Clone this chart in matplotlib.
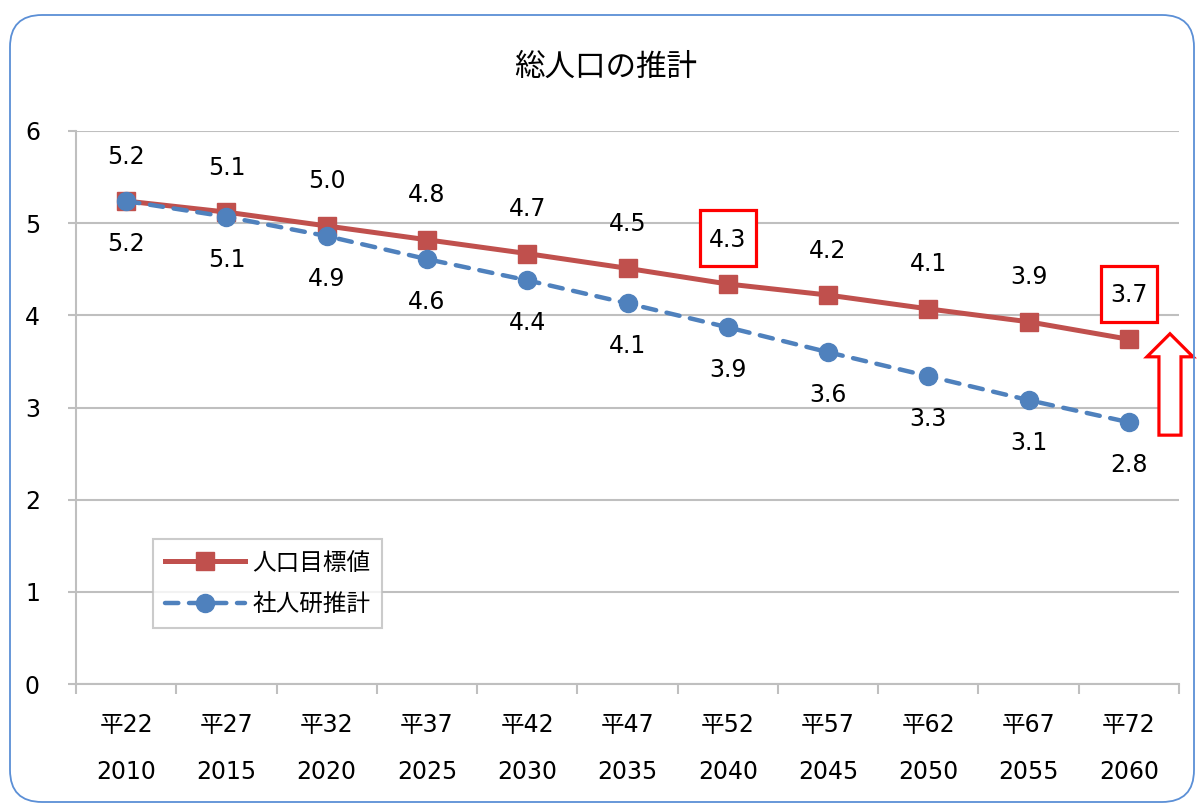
import matplotlib
matplotlib.use("Agg")
import matplotlib.pyplot as plt
from matplotlib.patches import FancyBboxPatch, Polygon, Rectangle
from matplotlib.transforms import IdentityTransform, ScaledTranslation

plt.rcParams['font.family'] = ['DejaVu Sans', 'Noto Sans CJK JP']

era = ["平22", "平27", "平32", "平37", "平42", "平47", "平52", "平57", "平62", "平67", "平72"]
years = ["2010", "2015", "2020", "2025", "2030", "2035", "2040", "2045", "2050", "2055", "2060"]
target = [5.24, 5.12, 4.97, 4.82, 4.67, 4.51, 4.34, 4.22, 4.07, 3.93, 3.74]
ipss = [5.24, 5.07, 4.86, 4.61, 4.38, 4.13, 3.87, 3.60, 3.34, 3.08, 2.84]
boxed = ["2040", "2060"]

red = "#C0504D"
blue = "#4F81BD"
grid = "#BFBFBF"
fs = 17

fig = plt.figure(figsize=(12, 8.06), dpi=100)
ax = fig.add_axes([76 / 1200, 1 - 684 / 806, 1103 / 1200, 553 / 806])

# rounded outer frame (pixel coords)
frame = FancyBboxPatch((10, 4), 1184, 787, boxstyle="round,pad=0,rounding_size=32",
                       transform=IdentityTransform(), fill=False,
                       edgecolor="#5B8FD6", linewidth=1.3)
fig.patches.append(frame)

x = list(range(len(years)))
ax.plot(x, target, color=red, lw=3.6, marker="s", ms=12.5, zorder=3, label="人口目標値")
ax.plot(x, ipss, color=blue, lw=3.2, ls=(0, (3.0, 2.4)), dash_capstyle="round",
        marker="o", ms=13, zorder=4, label="社人研推計")

for i, v in enumerate(target):
    ax.annotate(f"{v:.1f}", (i, v), xytext=(0, 32), textcoords="offset points",
                ha="center", va="center", fontsize=fs, zorder=6)
    if years[i] in boxed:
        # square highlight box, sized in inches around the label
        tr = fig.dpi_scale_trans + ScaledTranslation(i, v, ax.transData)
        ax.add_patch(Rectangle((-0.28, 0.455 - 0.28), 0.56, 0.56, transform=tr,
                               fc="white", ec="red", lw=2.3, clip_on=False, zorder=5))
for i, v in enumerate(ipss):
    ax.annotate(f"{v:.1f}", (i, v), xytext=(0, -31), textcoords="offset points",
                ha="center", va="center", fontsize=fs)

ax.set_xlim(-0.5, len(years) - 0.5)
ax.set_ylim(0, 6)
ax.set_yticks(range(7))
ax.yaxis.grid(True, color=grid, lw=1.5)
ax.set_axisbelow(True)
for s in ["top", "right"]:
    ax.spines[s].set_visible(False)
for s in ["left", "bottom"]:
    ax.spines[s].set_color(grid)
    ax.spines[s].set_linewidth(1.5)
ax.tick_params(axis="y", length=6, width=1.5, color=grid, labelsize=fs, pad=20)
ax.set_xticks([i - 0.5 for i in range(len(years) + 1)])
ax.set_xticklabels([])
ax.tick_params(axis="x", length=7, width=1.5, color=grid)

# two-row category labels
for i in x:
    ax.text(i, -0.44, era[i], ha="center", va="center", fontsize=fs,
            transform=ax.transData, clip_on=False)
    ax.text(i, -0.95, years[i], ha="center", va="center", fontsize=fs,
            transform=ax.transData, clip_on=False)

# hollow up arrow beside the last point
arrow = Polygon([(10.18, 3.55), (10.41, 3.80), (10.64, 3.55), (10.52, 3.55),
                 (10.52, 2.70), (10.30, 2.70), (10.30, 3.55)],
                closed=True, fill=True, fc="white", ec="red", lw=2.3, clip_on=False, zorder=5)
ax.add_patch(arrow)

fig.text(606 / 1200, 1 - 67 / 806, "総人口の推計", fontsize=22, ha="center", va="center")

leg = ax.legend(loc="lower left", bbox_to_anchor=(0.070, 0.101), borderaxespad=0,
                fancybox=False, edgecolor=grid, fontsize=fs, handlelength=3.4,
                labelspacing=0.75, borderpad=0.5, handletextpad=0.3)
leg.get_frame().set_linewidth(1.5)

fig.savefig("out.png", dpi=100)
